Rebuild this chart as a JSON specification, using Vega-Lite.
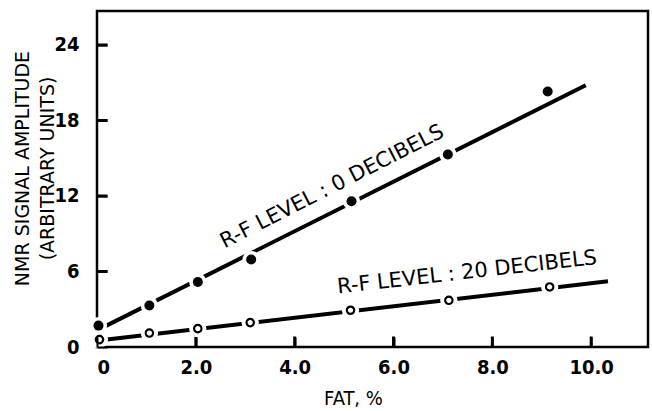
{
  "$schema": "https://vega.github.io/schema/vega-lite/v6.json",
  "width": 551,
  "height": 336,
  "autosize": {"type": "none"},
  "padding": {"left": 97, "top": 11, "right": 4, "bottom": 64},
  "background": "white",
  "config": {
    "view": {"stroke": "black", "strokeWidth": 2.5},
    "axis": {
      "domain": false,
      "grid": false,
      "labelColor": "black",
      "labelFont": "DejaVu Sans Condensed",
      "labelFontWeight": "bold",
      "labelFontSize": 20,
      "titleColor": "black",
      "titleFontWeight": "normal"
    }
  },
  "datasets": {
    "pts": [
      {"fat": 0.03, "amp": 1.7, "level": "0 dB"},
      {"fat": 1.06, "amp": 3.3, "level": "0 dB"},
      {"fat": 2.04, "amp": 5.17, "level": "0 dB"},
      {"fat": 3.12, "amp": 6.95, "level": "0 dB"},
      {"fat": 5.15, "amp": 11.58, "level": "0 dB"},
      {"fat": 7.1, "amp": 15.3, "level": "0 dB"},
      {"fat": 9.12, "amp": 20.3, "level": "0 dB"},
      {"fat": 0.05, "amp": 0.59, "level": "20 dB"},
      {"fat": 1.06, "amp": 1.11, "level": "20 dB"},
      {"fat": 2.04, "amp": 1.46, "level": "20 dB"},
      {"fat": 3.1, "amp": 1.94, "level": "20 dB"},
      {"fat": 5.13, "amp": 2.92, "level": "20 dB"},
      {"fat": 7.12, "amp": 3.71, "level": "20 dB"},
      {"fat": 9.16, "amp": 4.77, "level": "20 dB"}
    ],
    "fit": [
      {"fat": 0.07, "amp": 1.46, "level": "0 dB"},
      {"fat": 9.89, "amp": 20.8, "level": "0 dB"},
      {"fat": 0.07, "amp": 0.53, "level": "20 dB"},
      {"fat": 10.34, "amp": 5.22, "level": "20 dB"}
    ],
    "labels": [
      {"fat": 4.76, "amp": 12.72, "text": "R-F LEVEL : 0 DECIBELS", "angle": -27},
      {"fat": 7.49, "amp": 5.9, "text": "R-F LEVEL : 20 DECIBELS", "angle": -6.5}
    ],
    "xticks": [{"v": 2}, {"v": 4}, {"v": 6}, {"v": 8}, {"v": 10}],
    "yticks": [{"v": 6}, {"v": 12}, {"v": 18}, {"v": 24}]
  },
  "layer": [
    {
      "data": {"name": "fit"},
      "mark": {"type": "line", "color": "black", "strokeWidth": 4},
      "encoding": {
        "x": {
          "field": "fat", "type": "quantitative",
          "scale": {"domain": [0, 11.15], "nice": false, "zero": false},
          "axis": {
            "values": [0, 2, 4, 6, 8, 10],
            "labelExpr": "datum.value == 0 ? '0' : format(datum.value, '.1f')",
            "offset": -10,
            "ticks": true,
            "tickSize": 10,
            "tickWidth": 2,
            "tickColor": "black",
            "labelPadding": 10,
            "title": "FAT, %",
            "titleFont": "DejaVu Sans Condensed",
            "titleFontSize": 20,
            "titleX": 256,
            "titleY": 71,
            "titleBaseline": "bottom",
            "zindex": 1
          }
        },
        "y": {
          "field": "amp", "type": "quantitative",
          "scale": {"domain": [0, 26.7], "nice": false, "zero": false},
          "axis": {
            "values": [0, 6, 12, 18, 24],
            "offset": -10,
            "ticks": true,
            "tickSize": 10,
            "tickWidth": 2,
            "tickColor": "black",
            "labelPadding": 18,
            "title": ["NMR SIGNAL AMPLITUDE", "(ARBITRARY UNITS)"],
            "titleFont": "DejaVu Sans",
            "titleFontSize": 19,
            "titleLineHeight": 25,
            "titleX": -75,
            "titleY": 157,
            "titleBaseline": "bottom",
            "zindex": 1
          }
        },
        "detail": {"field": "level"}
      }
    },
    {
      "data": {"name": "xticks"},
      "mark": {"type": "tick", "orient": "vertical", "color": "black", "size": 11, "thickness": 3, "yOffset": -5, "opacity": 1},
      "encoding": {
        "x": {"field": "v", "type": "quantitative"},
        "y": {"datum": 0, "type": "quantitative"}
      }
    },
    {
      "data": {"name": "yticks"},
      "mark": {"type": "tick", "orient": "horizontal", "color": "black", "size": 11, "thickness": 3, "xOffset": 5, "opacity": 1},
      "encoding": {
        "y": {"field": "v", "type": "quantitative"},
        "x": {"datum": 0, "type": "quantitative"}
      }
    },
    {
      "data": {"name": "pts"},
      "mark": {"type": "point", "shape": "circle", "filled": true, "color": "white", "size": 300, "opacity": 1},
      "encoding": {
        "x": {"field": "fat", "type": "quantitative"},
        "y": {"field": "amp", "type": "quantitative"}
      }
    },
    {
      "data": {"name": "pts"},
      "transform": [{"filter": "datum.level == '0 dB'"}],
      "mark": {"type": "point", "shape": "circle", "filled": true, "color": "black", "size": 100, "opacity": 1},
      "encoding": {
        "x": {"field": "fat", "type": "quantitative"},
        "y": {"field": "amp", "type": "quantitative"}
      }
    },
    {
      "data": {"name": "pts"},
      "transform": [{"filter": "datum.level == '20 dB'"}],
      "mark": {"type": "point", "shape": "circle", "filled": false, "color": "black", "fill": "white", "strokeWidth": 2.2, "size": 55, "opacity": 1},
      "encoding": {
        "x": {"field": "fat", "type": "quantitative"},
        "y": {"field": "amp", "type": "quantitative"}
      }
    },
    {
      "data": {"name": "labels"},
      "mark": {"type": "text", "font": "DejaVu Sans", "fontSize": 21, "color": "black", "align": "center", "baseline": "middle"},
      "encoding": {
        "x": {"field": "fat", "type": "quantitative"},
        "y": {"field": "amp", "type": "quantitative"},
        "text": {"field": "text"},
        "angle": {"field": "angle", "type": "quantitative", "scale": null}
      }
    }
  ]
}
